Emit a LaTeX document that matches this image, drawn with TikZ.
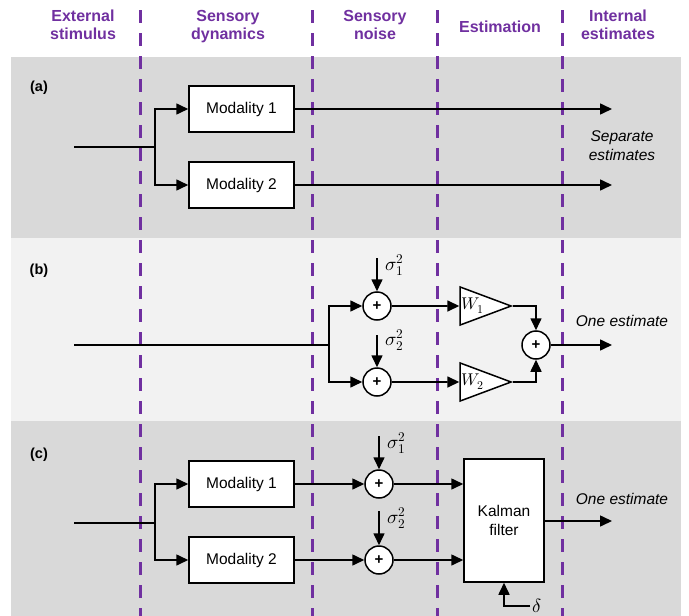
\documentclass[tikz,border=0pt]{standalone}
\usepackage{unicode-math}
\setmainfont{Liberation Sans}
\setmathfont{Latin Modern Math}
\usetikzlibrary{arrows.meta,shapes.geometric}
\definecolor{headpurple}{HTML}{7030A0}
\definecolor{panelgray}{HTML}{D9D9D9}
\definecolor{panellight}{HTML}{F2F2F2}

\begin{document}
\begin{tikzpicture}[x=1pt,y=-1pt,
        >={Triangle[length=12pt,width=11pt]},
        wire/.style={line width=1.6pt},
        block/.style={draw,line width=1.5pt,fill=white,minimum width=105pt,minimum height=46pt,inner sep=2pt,align=center,font=\fontsize{15.5}{19}\selectfont},
        sumnode/.style={draw,circle,line width=1.5pt,fill=white,minimum size=28pt,inner sep=0pt,font=\bfseries\fontsize{15}{15}\selectfont},
        gain/.style={draw,isosceles triangle,isosceles triangle stretches,line width=1.5pt,fill=white,minimum width=37pt,minimum height=51pt,inner sep=1pt,anchor=apex,font=\fontsize{17}{17}\selectfont},
        heading/.style={text=headpurple,font=\bfseries\fontsize{16}{18}\selectfont,align=center,anchor=base},
        panellabel/.style={font=\bfseries\fontsize{14.5}{16}\selectfont},
        outlabel/.style={font=\itshape\fontsize{15.5}{19}\selectfont,align=center},
        noiselabel/.style={font=\fontsize{19}{19}\selectfont,inner sep=0pt,anchor=west},
        divider/.style={headpurple,line width=3pt,dash pattern=on 12.5pt off 10.5pt}]
        	\useasboundingbox (0,0) rectangle (689,616);
        	% Panels and column dividers:
        	\fill[panelgray] (11,57) rectangle (681,238);
        	\fill[panellight] (11,238) rectangle (681,421);
        	\fill[panelgray] (11,421) rectangle (681,616);
        	\foreach \xd in {140,312,437,562}
        		\draw[divider] (\xd,10) -- (\xd,616);
        	\node[heading] (hdext) at (83,39) {External\\stimulus};
        	\node[heading] (hddyn) at (228,39) {Sensory\\dynamics};
        	\node[heading] (hdnoise) at (375,39) {Sensory\\noise};
        	\node[heading] (hdest) at (500,32) {Estimation};
        	\node[heading] (hdint) at (618,39) {Internal\\estimates};

        	% (a) separate estimates
        	\node[panellabel] (lbla) at (39,88) {(a)};
        	\coordinate (ina) at (74,147);
        	\coordinate (splita) at (155,147);
        	\node[block] (moda1) at (241.5,109) {Modality 1};
        	\node[block] (moda2) at (241.5,185) {Modality 2};
        	\coordinate (outa1) at (612,109);
        	\coordinate (outa2) at (612,185);
        	\node[outlabel] (sepest) at (622,146) {Separate\\estimates};
        	\draw[wire] (ina) -- (splita);
        	\draw[wire,->] (splita) |- (moda1);
        	\draw[wire,->] (splita) |- (moda2);
        	\draw[wire,->] (moda1) -- (outa1);
        	\draw[wire,->] (moda2) -- (outa2);

        	% (b) weighted sum
        	\node[panellabel] (lblb) at (39,271) {(b)};
        	\coordinate (inb) at (74,345);
        	\coordinate (splitb) at (329,345);
        	\node[sumnode] (sumb1) at (377,306) {+};
        	\node[sumnode] (sumb2) at (377,382) {+};
        	\coordinate (noiseb1) at (377,258);
        	\coordinate (noiseb2) at (377,335);
        	\node[noiselabel] (sigb1) at (385,265) {$\sigma_1^2$};
        	\node[noiselabel] (sigb2) at (385,340) {$\sigma_2^2$};
        	\node[gain] (gainb1) at (513,306) {$W_1$};
        	\node[gain] (gainb2) at (513,382) {$W_2$};
        	\node[sumnode] (sumb3) at (536,345) {+};
        	\coordinate (outb) at (612,345);
        	\node[outlabel] (oneb) at (622,321) {One estimate};
        	\draw[wire] (inb) -- (splitb);
        	\draw[wire,->] (splitb) |- (sumb1);
        	\draw[wire,->] (splitb) |- (sumb2);
        	\draw[wire,->] (noiseb1) -- (sumb1);
        	\draw[wire,->] (noiseb2) -- (sumb2);
        	\draw[wire,->] (sumb1) -- (gainb1.west);
        	\draw[wire,->] (sumb2) -- (gainb2.west);
        	\draw[wire,->] (gainb1.apex) -| (sumb3);
        	\draw[wire,->] (gainb2.apex) -| (sumb3);
        	\draw[wire,->] (sumb3) -- (outb);

        	% (c) Kalman filter
        	\node[panellabel] (lblc) at (39,455) {(c)};
        	\coordinate (inc) at (74,523);
        	\coordinate (splitc) at (155,523);
        	\node[block] (modc1) at (241.5,484) {Modality 1};
        	\node[block] (modc2) at (241.5,560) {Modality 2};
        	\node[sumnode] (sumc1) at (379,484) {+};
        	\node[sumnode] (sumc2) at (379,560) {+};
        	\coordinate (noisec1) at (379,436);
        	\coordinate (noisec2) at (379,511);
        	\node[noiselabel] (sigc1) at (387,443) {$\sigma_1^2$};
        	\node[noiselabel] (sigc2) at (387,518) {$\sigma_2^2$};
        	\node[block,minimum width=80pt,minimum height=123pt] (kalman) at (504,520.5) {Kalman\\filter};
        	\coordinate (outc) at (612,521);
        	\node[outlabel] (onec) at (622,499) {One estimate};
        	\coordinate (deltain) at (530,606);
        	\node[noiselabel] (delta) at (532,606) {$\delta$};
        	\draw[wire] (inc) -- (splitc);
        	\draw[wire,->] (splitc) |- (modc1);
        	\draw[wire,->] (splitc) |- (modc2);
        	\draw[wire,->] (modc1) -- (sumc1);
        	\draw[wire,->] (modc2) -- (sumc2);
        	\draw[wire,->] (noisec1) -- (sumc1);
        	\draw[wire,->] (noisec2) -- (sumc2);
        	\draw[wire,->] (sumc1) -- (sumc1 -| kalman.west);
        	\draw[wire,->] (sumc2) -- (sumc2 -| kalman.west);
        	\draw[wire,->] (kalman.east |- outc) -- (outc);
        	\draw[wire,->] (deltain) -| (kalman.south);
        \end{tikzpicture}
\end{document}
